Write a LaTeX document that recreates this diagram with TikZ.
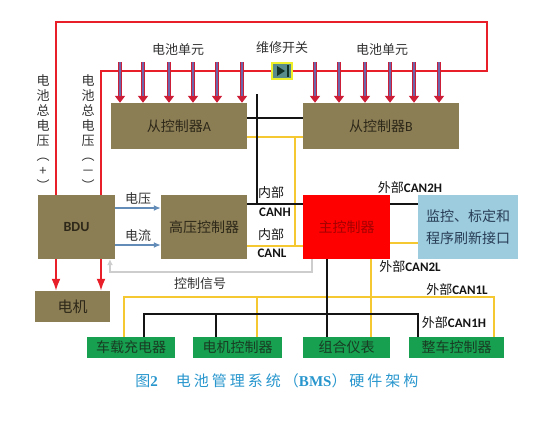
\documentclass[tikz,border=0pt]{standalone}
\usepackage{fontspec}
\usepackage{graphicx}
\setmainfont{Noto Sans CJK SC}
\setsansfont{Noto Sans CJK SC}
\newfontfamily\latinfont{Carlito}
\newfontfamily\capserif{Liberation Serif}
\newfontfamily\capfont[LetterSpace=20]{Noto Sans CJK SC}
\usetikzlibrary{arrows.meta,positioning}

\definecolor{olivebox}{RGB}{140,126,84}
\definecolor{boxtext}{RGB}{45,40,25}
\definecolor{mainred}{RGB}{255,0,0}
\definecolor{mainredtext}{RGB}{165,0,0}
\definecolor{ifaceblue}{RGB}{156,204,222}
\definecolor{ifacetext}{RGB}{40,60,85}
\definecolor{ecugreen}{RGB}{22,160,80}
\definecolor{ecutext}{RGB}{25,60,35}
\definecolor{wirered}{RGB}{232,30,40}
\definecolor{cellred}{RGB}{205,30,55}
\definecolor{cellblue}{RGB}{110,100,170}
\definecolor{canyellow}{RGB}{245,200,50}
\definecolor{canblack}{RGB}{20,20,20}
\definecolor{sigblue}{RGB}{100,140,185}
\definecolor{ctlgray}{RGB}{205,205,205}
\definecolor{swyellow}{RGB}{240,240,40}
\definecolor{swfill}{RGB}{90,140,140}
\definecolor{swdark}{RGB}{20,50,40}
\definecolor{lbltext}{RGB}{50,50,50}
\definecolor{capblue}{RGB}{40,150,205}

\begin{document}
\begin{tikzpicture}[x=1pt, y=-1pt, >=Latex, every node/.style={font=\sffamily},
  box/.style={rectangle, inner sep=0pt, fill=olivebox, text=boxtext,
    font=\sffamily\fontsize{14}{16}\selectfont},
  mainbox/.style={box, fill=mainred, text=mainredtext},
  ifacebox/.style={box, fill=ifaceblue, text=ifacetext, align=center,
    font=\sffamily\fontsize{14}{22}\selectfont},
  ecubox/.style={box, fill=ecugreen, text=ecutext, minimum height=21pt},
  switchbox/.style={rectangle, inner sep=0pt, draw=swyellow, line width=1.5pt,
    fill=swfill, minimum width=20pt, minimum height=16pt},
  lbl/.style={text=lbltext, inner sep=1pt, font=\sffamily\fontsize{13}{15}\selectfont},
  canlbl/.style={text=canblack, inner sep=1pt, font=\sffamily\fontsize{13}{15}\selectfont},
  vlabel/.style={lbl, align=center, font=\sffamily\fontsize{13}{15}\selectfont},
  redwire/.style={draw=wirered, line width=2pt},
  cellarrow/.style={draw=cellred, line width=4.5pt, -{Triangle[width=10pt,length=7pt]},
    postaction={draw=cellblue, line width=1.6pt, -, shorten >=7pt}},
  canh/.style={draw=canblack, line width=1.6pt},
  canl/.style={draw=canyellow, line width=1.6pt},
  sigarrow/.style={draw=sigblue, line width=1.6pt, -{Latex[length=7pt,width=6pt]}},
  ctlwire/.style={draw=ctlgray, line width=1.6pt},
  caption/.style={text=capblue, inner sep=0pt, font=\capfont\fontsize{15}{18}\selectfont}]

  \useasboundingbox (0,0) rectangle (554,423);

  % Nodes
  \node[box, minimum width=136pt, minimum height=46pt] (slaveA) at (179,126) {从控制器{\latinfont A}};
  \node[box, minimum width=156pt, minimum height=46pt] (slaveB) at (381,126) {从控制器{\latinfont B}};
  \node[box, minimum width=77pt, minimum height=64pt] (bdu) at (76.5,227) {\latinfont\bfseries BDU};
  \node[box, minimum width=86pt, minimum height=64pt] (hv) at (204,227) {高压控制器};
  \node[mainbox, minimum width=87pt, minimum height=64pt] (mcu) at (346.5,227) {主控制器};
  \node[ifacebox, minimum width=100pt, minimum height=64pt] (iface) at (468,227) {监控、标定和\\程序刷新接口};
  \node[box, minimum width=75pt, minimum height=31pt,
        font=\sffamily\fontsize{15}{17}\selectfont] (motor) at (72.5,306.5) {电机};
  \node[ecubox, minimum width=88pt] (obc) at (131,347.5) {车载充电器};
  \node[ecubox, minimum width=89pt] (mctl) at (237.5,347.5) {电机控制器};
  \node[ecubox, minimum width=87pt] (cluster) at (346.5,347.5) {组合仪表};
  \node[ecubox, minimum width=95pt] (vcu) at (456.5,347.5) {整车控制器};
  \node[switchbox] (sw) at (282,71) {};

  % Battery loop
  \coordinate (loopTL) at (56,22);
  \coordinate (loopTR) at (487,22);
  \coordinate (loopBR) at (487,71);
  \coordinate (busL) at (101,71);
  \draw[redwire] (bdu.north -| loopTL) -- (loopTL) -- (loopTR) -- (loopBR) -- (sw.east);
  \draw[redwire] (sw.west) -- (busL) -- (bdu.north -| busL);
  \draw[redwire, ->] (bdu.south -| loopTL) -- (motor.north -| loopTL);
  \draw[redwire, ->] (bdu.south -| busL) -- (motor.north -| busL);

  % Maintenance switch symbol
  \fill[swdark] ([xshift=-5pt,yshift=5pt]sw.center) -- ([xshift=3pt]sw.center)
    -- ([xshift=-5pt,yshift=-5pt]sw.center) -- cycle;
  \draw[swdark, line width=2pt] ([xshift=5.5pt,yshift=6pt]sw.center) -- ([xshift=5.5pt,yshift=-6pt]sw.center);

  % Battery cells
  \foreach \x in {120,143,169,193,217,242}
    \draw[cellarrow] (\x,62) -- (\x,0 |- slaveA.north);
  \foreach \x in {315,339,365,390,414,439}
    \draw[cellarrow] (\x,62) -- (\x,0 |- slaveB.north);

  % Internal CAN
  \coordinate (canTop) at (257,94);
  \coordinate (hS) at (257,118);
  \coordinate (hJ) at (257,204);
  \coordinate (lS) at (295,137);
  \coordinate (lJ) at (295,246);
  \draw[canl] (slaveA.east |- lS) -- (slaveB.west |- lS);
  \draw[canl] (lS) -- (lJ);
  \draw[canl] (hv.east |- lJ) -- (mcu.west |- lJ);
  \draw[canh] (slaveA.east |- hS) -- (slaveB.west |- hS);
  \draw[canh] (canTop) -- (hJ);
  \draw[canh] (hv.east |- hJ) -- (mcu.west |- hJ);

  % External CAN2
  \draw[canh] (mcu.east |- hJ) -- (iface.west |- hJ);
  \draw[canl] (mcu.east |- 0,243) -- (iface.west |- 0,243);

  % External CAN1
  \coordinate (l1W) at (124,297);
  \coordinate (l1E) at (494,297);
  \coordinate (l1M) at (257,297);
  \coordinate (l1C) at (371,297);
  \draw[canl] (obc.north -| l1W) -- (l1W) -- (l1E) -- (vcu.north -| l1E);
  \draw[canl] (l1M) -- (mctl.north -| l1M);
  \draw[canl] (mcu.south -| l1C) -- (cluster.north -| l1C);
  \coordinate (h1W) at (144,314);
  \coordinate (h1E) at (418,314);
  \coordinate (h1M) at (216,314);
  \coordinate (h1C) at (327,314);
  \draw[canh] (obc.north -| h1W) -- (h1W) -- (h1E) -- (vcu.north -| h1E);
  \draw[canh] (h1M) -- (mctl.north -| h1M);
  \draw[canh] (mcu.south -| h1C) -- (cluster.north -| h1C);

  % Voltage / current sensing
  \draw[sigarrow] (bdu.east |- 0,208) -- (hv.west |- 0,208)
    node[lbl, midway, above=2pt] (lblV) {电压};
  \draw[sigarrow] (bdu.east |- 0,245) -- (hv.west |- 0,245)
    node[lbl, midway, above=2pt] (lblI) {电流};

  % Control signal
  \coordinate (ctlA) at (312,272);
  \coordinate (ctlB) at (110,272);
  \draw[ctlwire, -{Latex[length=6pt,width=6pt]}] (mcu.south -| ctlA) -- (ctlA) -- (ctlB) -- (bdu.south -| ctlB);

  % Labels
  \node[lbl] (cellsA) at (178,50) {电池单元};
  \node[lbl] (cellsB) at (382,50) {电池单元};
  \node[lbl] (swlbl) at (282,48) {维修开关};
  \node[vlabel] (vplus) at (43,133) {电\\池\\总\\电\\压\\︵\\+\\︶};
  \node[vlabel] (vminus) at (88,133) {电\\池\\总\\电\\压\\︵\\－\\︶};
  \node[lbl] (lblCtl) at (200,284) {控制信号};
  \node[canlbl] (inH) at (271,193) {内部};
  \node[canlbl] (inHcan) at (275,212) {\latinfont\bfseries CANH};
  \node[canlbl] (inL) at (271,235) {内部};
  \node[canlbl] (inLcan) at (272,253) {\latinfont\bfseries CANL};
  \node[canlbl] (ex2H) at (410,188) {外部{\latinfont\bfseries CAN2H}};
  \node[canlbl] (ex2L) at (410,267) {外部{\latinfont\bfseries CAN2L}};
  \node[canlbl] (ex1L) at (457,290) {外部{\latinfont\bfseries CAN1L}};
  \node[canlbl] (ex1H) at (454,323) {外部{\latinfont\bfseries CAN1H}};

  % Caption
  \node[caption] (cap) at (277,381) {图{\capserif\bfseries 2}\hspace{1.2em}电池管理系统（{\capserif\bfseries BMS}）硬件架构};
\end{tikzpicture}
\end{document}
